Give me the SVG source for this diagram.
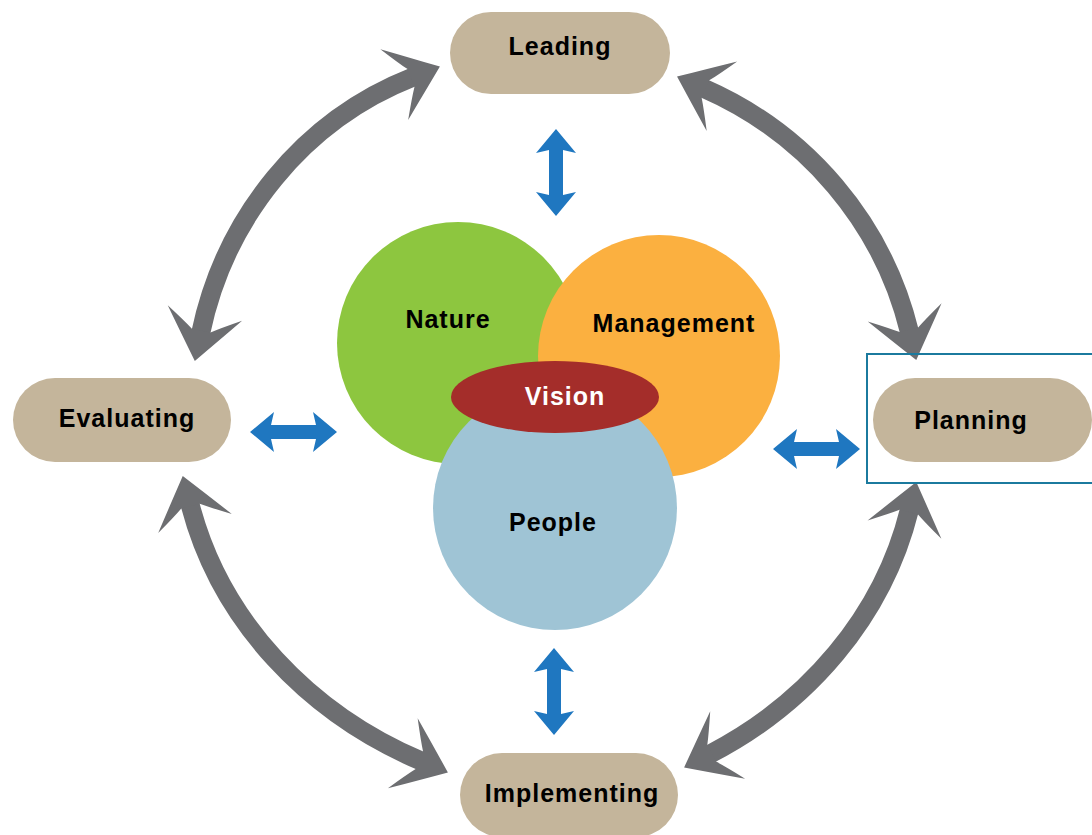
<svg xmlns="http://www.w3.org/2000/svg" width="1092" height="835" viewBox="0 0 1092 835">
<style>
.pill{fill:#C4B59B}
.lbl{font-family:"Liberation Sans",Arial,sans-serif;font-weight:bold;font-size:25px;letter-spacing:1px;text-anchor:middle;fill:#000}
.gray{fill:none;stroke:#6D6E71;stroke-width:19;stroke-linecap:butt}
.blue{fill:#1F77C0}
</style>
<defs>
<marker id="head" markerUnits="userSpaceOnUse" orient="auto-start-reverse" refX="0" refY="0" markerWidth="1" markerHeight="1" overflow="visible">
<path d="M29,0 Q6,-18 -20,-38 Q-8,-18 -2,-9.5 L-2,9.5 Q-8,18 -20,38 Q6,18 29,0 Z" fill="#6D6E71"/>
</marker>
<path id="dbl" d="M0,0 L24,-20 L21,-7 L66,-7 L63,-20 L87,0 L63,20 L66,7 L21,7 L24,20 Z"/>
</defs>
<rect width="1092" height="835" fill="#fff"/>
<g id="connectors">
<path class="gray" marker-start="url(#head)" marker-end="url(#head)" d="M200.8,332.6 C225,217.5 303.4,120.2 412.9,77.2"/>
<path class="gray" marker-start="url(#head)" marker-end="url(#head)" d="M703.6,88.2 C806.5,133.2 882.8,222.8 909.4,331.8"/>
<path class="gray" marker-start="url(#head)" marker-end="url(#head)" d="M909.3,510.2 C882.9,616.7 807.4,703.7 709.9,754.1"/>
<path class="gray" marker-start="url(#head)" marker-end="url(#head)" d="M190,504.1 C220.4,621.8 309.4,713.6 421.2,761.1"/>
<use href="#dbl" class="blue" transform="translate(556,129) rotate(90)"/>
<use href="#dbl" class="blue" transform="translate(554,648) rotate(90)"/>
<use href="#dbl" class="blue" transform="translate(250,432)"/>
<use href="#dbl" class="blue" transform="translate(773,449)"/>
</g>
<g id="nature"><circle cx="458" cy="343" r="121" fill="#8DC63F"/></g>
<g id="management"><circle cx="659" cy="356" r="121" fill="#FBB040"/></g>
<g id="people"><circle cx="555" cy="508" r="122" fill="#9FC4D5"/></g>
<g id="vision"><ellipse cx="555" cy="397" rx="104" ry="36" fill="#A42D2A"/></g>
<g id="labels-inner">
<text class="lbl" x="448" y="328">Nature</text>
<text class="lbl" x="674" y="332">Management</text>
<text class="lbl" x="565" y="405" style="fill:#fff">Vision</text>
<text class="lbl" x="553" y="531">People</text>
</g>
<g id="leading"><rect class="pill" x="450" y="12" width="220" height="82" rx="41"/><text class="lbl" x="560" y="55">Leading</text></g>
<g id="planning"><rect class="pill" x="873" y="378" width="219" height="84" rx="42"/><text class="lbl" x="971" y="429">Planning</text></g>
<g id="evaluating"><rect class="pill" x="13" y="378" width="218" height="84" rx="42"/><text class="lbl" x="127" y="427">Evaluating</text></g>
<g id="implementing"><rect class="pill" x="460" y="753" width="218" height="84" rx="42"/><text class="lbl" x="572" y="802">Implementing</text></g>
<g id="selection"><rect x="867" y="354" width="240" height="129" fill="none" stroke="#1B7A9E" stroke-width="2"/></g>
</svg>
